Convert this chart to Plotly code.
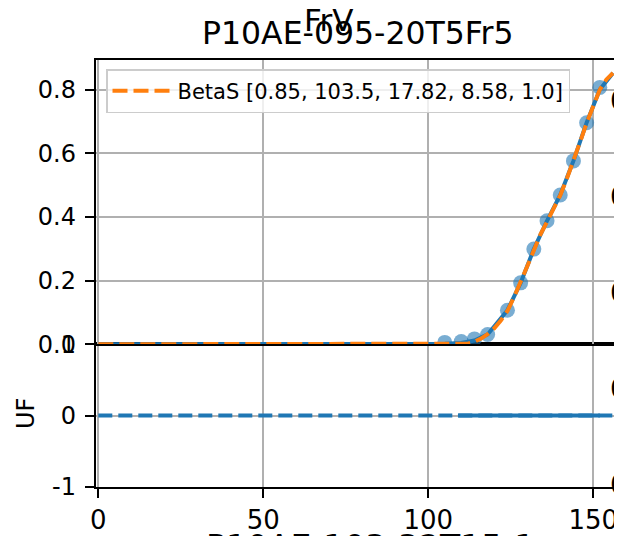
import plotly.graph_objects as go

# page body has an 8px margin; the figure is placed so the window shows 622x536
OFF = 8
W, H = 622 - OFF, 536 - OFF

# ---- data ----
pts_x = [105, 110, 114, 118, 124, 128, 132, 136, 140, 144, 148, 152]
pts_y = [0.006, 0.009, 0.017, 0.031, 0.107, 0.193, 0.299, 0.388, 0.469, 0.576, 0.696, 0.807]

data_x = [0, 100, 105, 110, 114, 118, 124, 128, 132, 136, 140, 144, 148, 152, 156]
data_y = [0, 0, 0.002, 0.004, 0.012, 0.031, 0.107, 0.193, 0.299, 0.388, 0.469, 0.576, 0.696, 0.800, 0.852]

fit_x = [0, 110, 112, 114, 116, 118, 120, 122, 124, 126, 128, 130, 132, 134, 136,
         138, 140, 142, 144, 146, 148, 150, 152, 154, 156]
fit_y = [0, 0, 0.002, 0.008, 0.018, 0.032, 0.05, 0.075, 0.105, 0.148, 0.193, 0.245,
         0.295, 0.345, 0.385, 0.425, 0.468, 0.52, 0.575, 0.635, 0.695, 0.75, 0.80, 0.832, 0.852]
fit_name = "BetaS [0.85, 103.5, 17.82, 8.58, 1.0]"

uf_line_x = [0, 160]
uf_line_y = [0, 0]
uf_x = [109, 114, 118, 124, 128, 132, 136, 140, 144, 148, 152]
uf_y = [0, 0, 0, 0, 0, 0, 0, 0, 0, 0, 0]

x_ticks = [0, 50, 100, 150]
top_ticks = [0.0, 0.2, 0.4, 0.6, 0.8]
top_ticktext = ["0.0", "0.2", "0.4", "0.6", "0.8"]
bot_ticks = [-1, 0, 1]
bot_ticktext = ["-1", "0", "1"]

title_main = "P10AE-095-20T5Fr5"
title_sup = "FrV"
title_below = "P10AE-103-32T15-1"
ylabel_bottom = "UF"
edge_labels = ["0", "0", "0", "0", "0"]

C0 = "#1f77b4"
C1 = "#ff7f0e"
FONT = "DejaVu Sans"


def px(xp):
    return (xp - OFF) / W


def py(yp):
    return 1 - (yp - OFF) / H


fig = go.Figure()

# top panel
fig.add_trace(go.Scatter(x=pts_x, y=pts_y, mode="markers",
                         marker=dict(size=15, color="rgba(31,119,180,0.6)", line=dict(width=0)),
                         xaxis="x2", yaxis="y2", showlegend=False))
fig.add_trace(go.Scatter(x=data_x, y=data_y, mode="lines",
                         line=dict(color=C0, width=4),
                         xaxis="x2", yaxis="y2", showlegend=False))
fig.add_trace(go.Scatter(x=fit_x, y=fit_y, mode="lines", name=fit_name,
                         line=dict(color=C1, width=4, dash="15px,6px"),
                         xaxis="x2", yaxis="y2", showlegend=True))

# bottom panel
fig.add_trace(go.Scatter(x=uf_line_x, y=uf_line_y, mode="lines",
                         line=dict(color=C0, width=4, dash="14px,6px"),
                         xaxis="x", yaxis="y", showlegend=False))
fig.add_trace(go.Scatter(x=uf_x, y=uf_y, mode="lines",
                         line=dict(color=C0, width=4),
                         xaxis="x", yaxis="y", showlegend=False))

x_dom = [px(95.8), px(618.3)]
top_dom = [py(344.3), py(60)]
bot_dom = [py(486.7), py(344.3)]
x_range = [-0.76, 157.6]

axis_common = dict(showline=True, linecolor="black", linewidth=2, mirror=True,
                   showgrid=True, gridcolor="#b0b0b0", gridwidth=2, zeroline=False,
                   tickcolor="black", tickwidth=2, ticklen=9, automargin=False)

fig.update_layout(
    template="none",
    width=W, height=H,
    margin=dict(l=0, r=0, t=0, b=0, autoexpand=False),
    paper_bgcolor="white", plot_bgcolor="white",
    font=dict(family=FONT, color="black"),
    xaxis=dict(domain=x_dom, range=x_range, anchor="y", tickvals=x_ticks,
               ticks="outside", tickfont=dict(size=26, family=FONT), **axis_common),
    yaxis=dict(domain=bot_dom, range=[-1, 1], anchor="x", tickvals=bot_ticks,
               ticktext=bot_ticktext, ticks="outside",
               tickfont=dict(size=24, family=FONT), ticklabelstandoff=4, **axis_common),
    xaxis2=dict(domain=x_dom, range=x_range, anchor="y2", matches="x", tickvals=x_ticks,
                ticks="", showticklabels=False, **axis_common),
    yaxis2=dict(domain=top_dom, range=[0, 0.893], anchor="x2", tickvals=top_ticks,
                ticktext=top_ticktext, ticks="outside",
                tickfont=dict(size=24, family=FONT), ticklabelstandoff=4, **axis_common),
    legend=dict(x=px(106), y=py(69), xanchor="left", yanchor="top",
                bgcolor="rgba(255,255,255,0.8)", bordercolor="#cccccc", borderwidth=1.5,
                font=dict(size=21, family=FONT), itemwidth=60),
    showlegend=True,
)

ann = []
ann.append(dict(text=title_main, x=px(357.5), y=py(33.3), xref="paper", yref="paper",
                xanchor="center", yanchor="middle", showarrow=False,
                font=dict(size=31.5, family=FONT)))
ann.append(dict(text=title_sup, x=px(329), y=py(20.4), xref="paper", yref="paper",
                xanchor="center", yanchor="middle", showarrow=False,
                font=dict(size=31, family=FONT)))
ann.append(dict(text=title_below, x=px(370), y=py(547.5), xref="paper", yref="paper",
                xanchor="center", yanchor="middle", showarrow=False,
                font=dict(size=33, family=FONT)))
ann.append(dict(text=ylabel_bottom, x=px(26), y=py(414), xref="paper", yref="paper",
                xanchor="center", yanchor="middle", showarrow=False, textangle=-90,
                font=dict(size=24, family=FONT)))
for lab, yc in zip(edge_labels, [100, 196, 292, 388, 484]):
    ann.append(dict(text=lab, x=px(608), y=py(yc), xref="paper", yref="paper",
                    xanchor="left", yanchor="middle", showarrow=False,
                    font=dict(size=27, family=FONT, color="black")))
fig.update_layout(annotations=ann)

fig.write_html("out.html")
